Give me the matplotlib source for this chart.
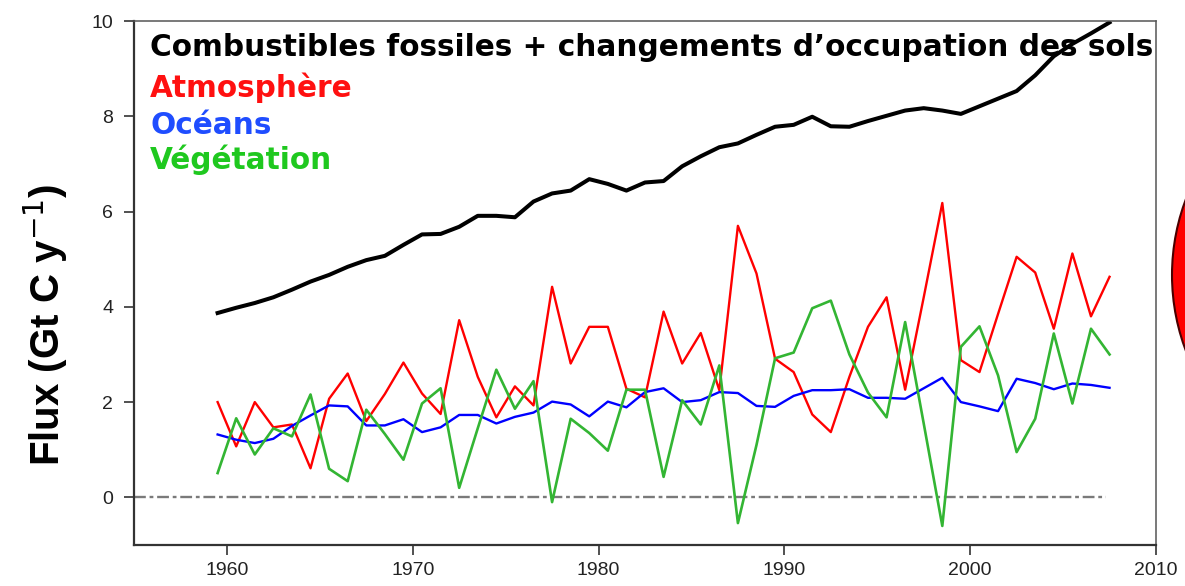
import matplotlib
matplotlib.use("Agg")
import matplotlib.pyplot as plt
from matplotlib.patches import Ellipse
import numpy as np

# Annual carbon fluxes (Gt C / yr), 1959-2007, plotted at mid-year
years = list(range(1959, 2008))

emissions = [3.87, 3.98, 4.08, 4.20, 4.36, 4.53, 4.67, 4.84, 4.98, 5.07,
             5.30, 5.52, 5.53, 5.68, 5.91, 5.91, 5.88, 6.21, 6.38, 6.44,
             6.68, 6.58, 6.44, 6.61, 6.64, 6.95, 7.16, 7.35, 7.43, 7.61,
             7.78, 7.82, 7.99, 7.79, 7.78, 7.90, 8.01, 8.12, 8.17, 8.12,
             8.05, 8.21, 8.37, 8.53, 8.86, 9.26, 9.52, 9.74, 9.97]

atmosphere = [2.00, 1.07, 2.00, 1.47, 1.53, 0.61, 2.07, 2.60, 1.60, 2.17,
              2.83, 2.18, 1.75, 3.72, 2.53, 1.68, 2.33, 1.93, 4.42, 2.81,
              3.58, 3.58, 2.28, 2.10, 3.90, 2.81, 3.45, 2.25, 5.70, 4.70,
              2.91, 2.63, 1.74, 1.37, 2.53, 3.58, 4.20, 2.26, 4.20, 6.18,
              2.88, 2.63, 3.85, 5.05, 4.72, 3.54, 5.12, 3.80, 4.63]

oceans = [1.32, 1.21, 1.14, 1.23, 1.50, 1.72, 1.93, 1.91, 1.51, 1.51,
          1.64, 1.37, 1.47, 1.73, 1.73, 1.55, 1.69, 1.78, 2.01, 1.95,
          1.70, 2.01, 1.89, 2.21, 2.29, 2.00, 2.04, 2.21, 2.19, 1.92,
          1.90, 2.13, 2.25, 2.25, 2.27, 2.09, 2.09, 2.07, 2.29, 2.51,
          2.00, 1.91, 1.81, 2.49, 2.40, 2.27, 2.39, 2.36, 2.30]

vegetation = [0.51, 1.66, 0.90, 1.45, 1.28, 2.16, 0.60, 0.34, 1.84, 1.33,
              0.79, 1.97, 2.29, 0.20, 1.45, 2.68, 1.86, 2.44, -0.10, 1.65,
              1.35, 0.98, 2.26, 2.26, 0.43, 2.04, 1.53, 2.77, -0.54, 1.10,
              2.92, 3.04, 3.97, 4.13, 3.00, 2.20, 1.68, 3.68, 1.55, -0.60,
              3.16, 3.59, 2.56, 0.95, 1.65, 3.44, 1.97, 3.54, 3.00]

labels = ["Combustibles fossiles + changements d\u2019occupation des sols",
          "Atmosph\u00e8re", "Oc\u00e9ans", "V\u00e9g\u00e9tation"]
label_colors = ["#000000", "#ff1010", "#1f4dff", "#1fc81f"]

x_ticks = [1960, 1970, 1980, 1990, 2000, 2010]
y_ticks = [0, 2, 4, 6, 8, 10]

x = np.array(years) + 0.5

fig = plt.figure(figsize=(11.85, 5.86), dpi=100)
ax = fig.add_axes([134 / 1185, 1 - 545 / 586, (1156 - 134) / 1185, (545 - 21) / 586])

# zero reference line
ax.plot([1955, 2007.3], [0, 0], color="#7a7a7a", lw=1.7,
        dashes=[5, 1.6, 1.6, 1.6])

ax.plot(x, emissions, color="black", lw=2.9, solid_joinstyle="round")
ax.plot(x, atmosphere, color="#ff0000", lw=1.7)
ax.plot(x, oceans, color="#0000ff", lw=1.7)
ax.plot(x, vegetation, color="#33b533", lw=1.9)

ax.set_xlim(1955, 2010)
ax.set_ylim(-1, 10)
ax.set_xticks(x_ticks)
ax.set_yticks(y_ticks)
ax.tick_params(direction="out", length=7, width=1.2, colors="#333333",
               labelsize=14, labelcolor="#222222")
ax.tick_params(axis="y", pad=8)
ax.tick_params(axis="x", pad=5)
for lab in ax.get_xticklabels() + ax.get_yticklabels():
    lab.set_family("Liberation Sans")

for side in ["left", "bottom"]:
    ax.spines[side].set_color("#333333")
    ax.spines[side].set_linewidth(1.6)
for side in ["top", "right"]:
    ax.spines[side].set_color("#555555")
    ax.spines[side].set_linewidth(1.1)

ax.set_ylabel("Flux (Gt C y$^{-1}$)", fontsize=29, family="Liberation Sans",
              fontweight="bold")
ax.yaxis.set_label_coords(-0.063, 0.42)

# coloured key text in the upper-left corner
y_pos = [48, 88, 125, 160]
for txt, col, yp in zip(labels, label_colors, y_pos):
    fig.text(150 / 1185, 1 - yp / 586, txt, color=col, fontsize=21.3,
             fontweight="bold", family="DejaVu Sans", va="center", ha="left")

# neighbouring red disc cut by the right edge
disc = Ellipse((1386 / 1185, 1 - 275 / 586), 2 * 214 / 1185, 2 * 214 / 586,
               transform=fig.transFigure, facecolor="#ff0000",
               edgecolor="#4a0000", lw=1.5)
fig.add_artist(disc)

fig.savefig("out.png", dpi=100)
